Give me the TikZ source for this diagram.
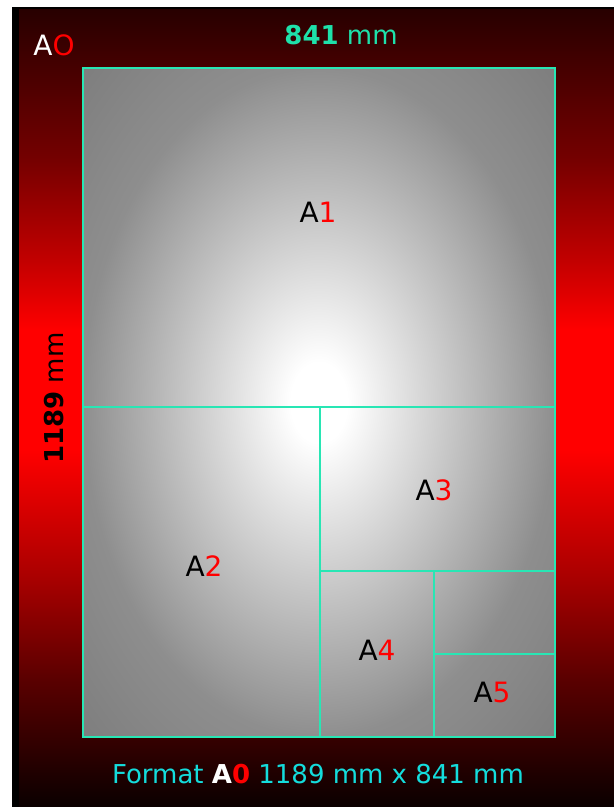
\documentclass[tikz,border=0pt]{standalone}
\usepackage{fontspec}
\setmainfont{DejaVu Sans}
\usetikzlibrary{positioning}
\definecolor{trim}{RGB}{40,230,180}
\definecolor{dimtxt}{RGB}{30,225,170}
\definecolor{fmttxt}{RGB}{20,220,220}
\definecolor{paperedge}{RGB}{142,142,142}
\definecolor{papercorner}{RGB}{125,125,125}
\definecolor{bgtop}{RGB}{40,0,0}
\definecolor{bgupper}{RGB}{115,0,0}
\definecolor{bgmid}{RGB}{195,0,0}
\definecolor{bglow}{RGB}{170,0,0}
\definecolor{bglower}{RGB}{90,0,0}
\definecolor{bgbottom}{RGB}{10,0,0}
\pgfdeclareradialshading{papergrad}{\pgfpointorigin}{color(0bp)=(white); color(3bp)=(white); color(25bp)=(paperedge); color(36bp)=(papercorner); color(50bp)=(papercorner)}
\pgfdeclareverticalshading{bggrad}{100bp}{color(0bp)=(bgbottom); color(25bp)=(bgbottom); color(33bp)=(bglower); color(39.5bp)=(bglow); color(47.4bp)=(red); color(54.9bp)=(red); color(59.2bp)=(bgmid); color(65.8bp)=(bgupper); color(75bp)=(bgtop); color(100bp)=(bgtop)}
\begin{document}
\begin{tikzpicture}[x=0.5pt, y=-0.5pt,
  sheet/.style={font=\fontsize{14}{16}\selectfont, inner sep=0pt},
  dim/.style={font=\fontsize{13}{15}\selectfont, inner sep=0pt},
  cut/.style={draw=trim, line width=1pt}]
\useasboundingbox (0,0) rectangle (614,807);
\fill[white] (0,0) rectangle (614,807);
% background
\fill[black] (12,7) rectangle (614,807);
\shade[shading=bggrad] (19,10) rectangle (614,807);
% sheet and cuts
\shade[shading=papergrad] (83,68) rectangle (555,737);
\draw[cut] (83,68) rectangle (555,737);
\draw[cut] (83,407) -- (555,407);
\draw[cut] (320,407) -- (320,737);
\draw[cut] (320,571) -- (555,571);
\draw[cut] (434,571) -- (434,737);
\draw[cut] (434,654) -- (555,654);
\node[sheet] (a1) at (318,212) {A\textcolor{red}{1}};
\node[sheet] (a2) at (204,566) {A\textcolor{red}{2}};
\node[sheet] (a3) at (434,490) {A\textcolor{red}{3}};
\node[sheet] (a4) at (377,650) {A\textcolor{red}{4}};
\node[sheet] (a5) at (492,692) {A\textcolor{red}{5}};
% labels
\node[sheet, text=white] (fmt) at (54,45) {A\textcolor{red}{O}};
\node[dim, text=dimtxt] (width) at (341,35) {\textbf{841} mm};
\node[dim, rotate=90] (height) at (54,398) {\textbf{1189} mm};
\node[dim, text=fmttxt] (caption) at (318,774) {Format \textbf{\textcolor{white}{A}\textcolor{red}{0}} 1189 mm x 841 mm};
\end{tikzpicture}
\end{document}
